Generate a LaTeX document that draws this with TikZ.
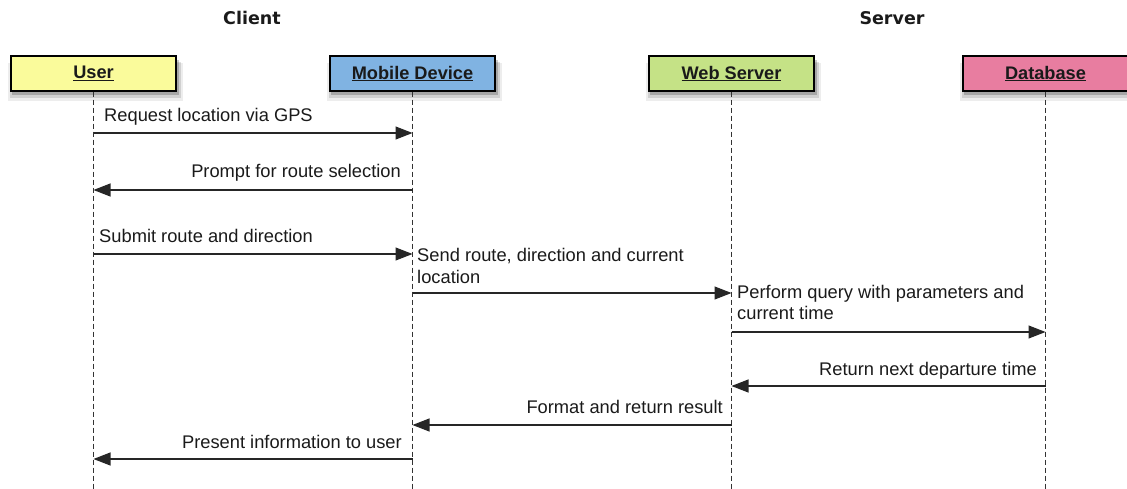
\documentclass[tikz,border=0pt]{standalone}
\usepackage{fontspec}
\setmainfont{Liberation Sans}
\newfontfamily\groupfont{DejaVu Sans}
\usetikzlibrary{arrows.meta,shadows}

\definecolor{userfill}{HTML}{FAFB9B}
\definecolor{mobilefill}{HTML}{80B3E2}
\definecolor{webfill}{HTML}{C5E286}
\definecolor{dbfill}{HTML}{E87DA0}
\definecolor{inkgray}{HTML}{1A1A1A}

\begin{document}
\begin{tikzpicture}[x=1pt,y=-1pt,
  softshadow/.style={
    general shadow={shadow xshift=2pt, shadow yshift=-8pt, shadow scale=1.06, fill=black, opacity=0.07},
    general shadow={shadow xshift=2pt, shadow yshift=-6pt, shadow scale=1.035, fill=black, opacity=0.12},
    general shadow={shadow xshift=2pt, shadow yshift=-4pt, shadow scale=1.01, fill=black, opacity=0.2}},
  actor/.style={draw=black, line width=1.4pt, minimum width=165pt, minimum height=35pt,
    inner sep=0pt, softshadow, text=inkgray,
    font=\fontsize{18.2}{20}\selectfont\bfseries},
  group/.style={font=\groupfont\fontsize{17.5}{20}\selectfont\bfseries, text=inkgray, inner sep=0pt},
  lifeline/.style={draw=black!80, line width=1pt, dash pattern=on 5pt off 3pt},
  msg/.style={draw=black!85, line width=1.1pt, -{Triangle[length=17pt,width=13pt]}},
  lbl/.style={font=\fontsize{18.3}{21}\selectfont, text=inkgray, inner sep=0pt, align=left}]

\useasboundingbox (0,0) rectangle (1127,489);

% group headings
\node[group, anchor=base] (client) at (252,25) {Client};
\node[group, anchor=base] (server) at (892,25) {Server};

% participants
\node[actor, fill=userfill]   (user)   at (93.5,73.5)  {\underline{User}};
\node[actor, fill=mobilefill] (mobile) at (412.5,73.5) {\underline{Mobile Device}};
\node[actor, fill=webfill]    (web)    at (731.5,73.5) {\underline{Web Server}};
\node[actor, fill=dbfill]     (db)     at (1045.5,73.5){\underline{Database}};

% lifelines
\foreach \p in {user,mobile,web,db} {
  \coordinate (\p-end) at (\p |- 0,489);
  \draw[lifeline] (\p.south) -- (\p-end);
}

% message end points on the lifelines
\coordinate (u1) at (user |- 0,133);   \coordinate (m1) at (mobile |- 0,133);
\coordinate (m2) at (mobile |- 0,190); \coordinate (u2) at (user |- 0,190);
\coordinate (u3) at (user |- 0,254);   \coordinate (m3) at (mobile |- 0,254);
\coordinate (m4) at (mobile |- 0,293); \coordinate (w4) at (web |- 0,293);
\coordinate (w5) at (web |- 0,332);    \coordinate (d5) at (db |- 0,332);
\coordinate (d6) at (db |- 0,386);     \coordinate (w6) at (web |- 0,386);
\coordinate (w7) at (web |- 0,425);    \coordinate (m7) at (mobile |- 0,425);
\coordinate (m8) at (mobile |- 0,459); \coordinate (u8) at (user |- 0,459);

% messages
\draw[msg] (u1) -- (m1);
\draw[msg] (m2) -- (u2);
\draw[msg] (u3) -- (m3);
\draw[msg] (m4) -- (w4);
\draw[msg] (w5) -- (d5);
\draw[msg] (d6) -- (w6);
\draw[msg] (w7) -- (m7);
\draw[msg] (m8) -- (u8);

% message labels (multi-line labels are anchored on their last line)
\node[lbl, anchor=base west] (t1) at (104,122) {Request location via GPS};
\node[lbl, anchor=base east] (t2) at (401,178) {Prompt for route selection};
\node[lbl, anchor=base west] (t3) at (99,242)  {Submit route and direction};
\node[lbl, anchor=base west] (t4) at (417,283) {Send route, direction and current\\location};
\node[lbl, anchor=base west] (t5) at (737,319) {Perform query with parameters and\\current time};
\node[lbl, anchor=base east] (t6) at (1037,375) {Return next departure time};
\node[lbl, anchor=base east] (t7) at (723,413) {Format and return result};
\node[lbl, anchor=base east] (t8) at (402,448) {Present information to user};
\end{tikzpicture}
\end{document}
